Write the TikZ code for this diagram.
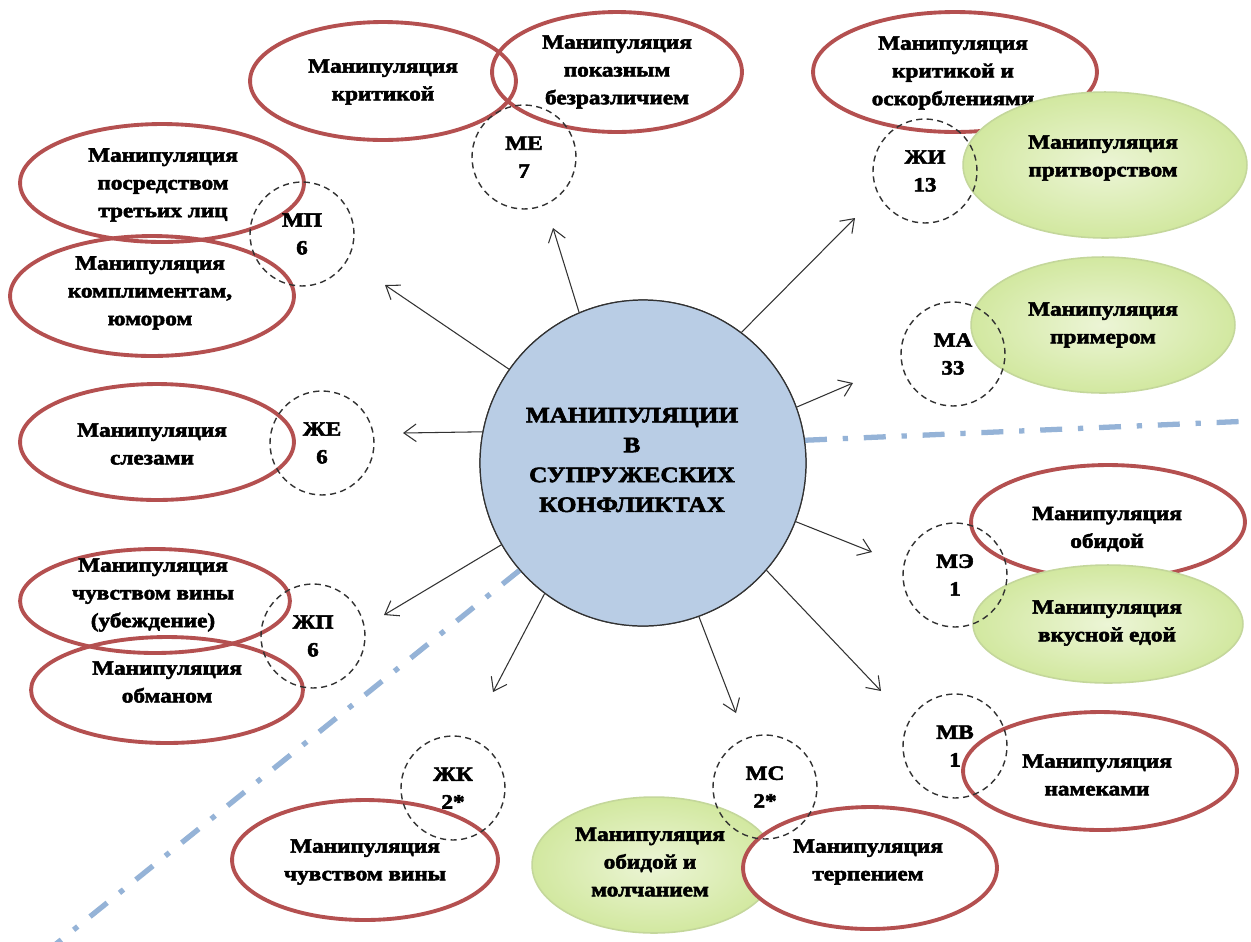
\documentclass[tikz,border=0pt]{standalone}
\usepackage{fontspec}
\newfontfamily\lbl{Liberation Serif}[FakeStretch=1.15,FakeBold=2.6]
\usetikzlibrary{shapes.geometric,arrows.meta}
\definecolor{redc}{RGB}{180,80,80}
\definecolor{grnb}{RGB}{196,215,155}
\definecolor{grnin}{RGB}{236,245,214}
\definecolor{grnout}{RGB}{210,232,160}
\definecolor{bluef}{RGB}{185,205,229}
\definecolor{bluel}{RGB}{149,179,215}
\definecolor{dk}{RGB}{50,50,50}
\tikzset{
  redel/.style 2 args={ellipse, draw=redc, line width=2.2pt, minimum width=#1*0.04cm, minimum height=#2*0.04cm, inner sep=0pt},
  redelw/.style 2 args={redel={#1}{#2}, fill=white},
  grnel/.style 2 args={ellipse, draw=grnb, line width=0.9pt, inner color=grnin, outer color=grnout, minimum width=#1*0.04cm, minimum height=#2*0.04cm, inner sep=0pt},
  txt/.style={font={\lbl\bfseries\fontsize{11.5pt}{15.8pt}\selectfont}, align=center, inner sep=0pt, text=black},
  dc/.style={circle, draw=dk, line width=0.8pt, dash pattern=on 3.5pt off 2.5pt, minimum size=2.08cm, inner sep=0pt, font={\lbl\bfseries\fontsize{11.5pt}{15.8pt}\selectfont}, align=center},
  arr/.style={draw=dk, line width=0.6pt, -{Straight Barb[length=7pt,width=10pt]}},
  dashdot/.style={draw=bluel, line width=3pt, dash pattern=on 12.5pt off 9pt on 3pt off 9pt},
}
\begin{document}
\begin{tikzpicture}[x=0.02cm,y=-0.02cm]
\fill[white] (0,0) rectangle (1251,941);
\useasboundingbox (0,0) rectangle (1251,941);

% central circle
\node[circle, draw=dk, line width=0.7pt, fill=bluef, minimum size=6.52cm, inner sep=0pt] (c) at (643,463) {};
\coordinate (ba) at (1251,421);
\coordinate (bb) at (56,944);
\draw[dashdot] (c.8.7) -- (ba);
\draw[dashdot] (c.221.7) -- (bb);
\node[circle, draw=dk, line width=0.7pt, fill=bluef, minimum size=6.52cm, inner sep=0pt] (c2) at (643,463) {};
\node[txt, font={\lbl\bfseries\fontsize{12.5pt}{17pt}\selectfont}] (ct) at (632,460) {МАНИПУЛЯЦИИ\\В\\СУПРУЖЕСКИХ\\КОНФЛИКТАХ};

% red ellipses
\node[redel={133}{59}] (e1) at (383,81) {};
\node[txt] (t1) at (383,82) {Манипуляция\\критикой};
\node[redel={125}{60}] (e2) at (617,72) {};
\node[txt] (t2) at (617,72) {Манипуляция\\показным\\безразличием};
\node[redel={142}{60}] (e3) at (955,72) {};
\node[txt] (t3) at (953,73) {Манипуляция\\критикой и\\оскорблениями};
\node[redel={142}{59}] (e5) at (162,183) {};
\node[txt] (t5) at (163,185) {Манипуляция\\посредством\\третьих лиц};
\node[redel={142}{60}] (e6) at (152,296) {};
\node[txt] (t6) at (150,293) {Манипуляция\\комплиментам,\\юмором};
\node[redel={137}{58}] (e8) at (157,442) {};
\node[txt] (t8) at (152,444) {Манипуляция\\слезами};
\node[redel={135}{52}] (e9) at (155,601) {};
\node[txt] (t9) at (153,595) {Манипуляция\\чувством вины\\(убеждение)};
\node[redel={136}{53}] (e10) at (167,690) {};
\node[txt] (t10) at (167,682) {Манипуляция\\обманом};
\node[redel={137}{57}] (e11) at (1108,522) {};
\node[txt] (t11) at (1107,529) {Манипуляция\\обидой};
\node[redel={137}{59}] (e13) at (1100,771) {};
\node[txt] (t13) at (1097,775) {Манипуляция\\намеками};
\node[redel={133}{60}] (e14) at (365,860) {};
\node[txt] (t14) at (365,862) {Манипуляция\\чувством вины};

% green ellipses
\node[grnel={142}{73}] (g4) at (1105,165) {};
\node[txt] (tg4) at (1103,158) {Манипуляция\\притворством};
\node[grnel={132}{68}] (g7) at (1103,325) {};
\node[txt] (tg7) at (1103,325) {Манипуляция\\примером};
\node[grnel={135}{59}] (g12) at (1108,624) {};
\node[txt] (tg12) at (1107,623) {Манипуляция\\вкусной едой};
\node[grnel={122}{68}] (g15) at (654,865) {};
\node[txt] (tg15) at (650,862) {Манипуляция\\обидой и\\молчанием};

\node[redelw={127}{61}] (e16) at (870,868) {};
\node[txt] (t16) at (868,862) {Манипуляция\\терпением};

% dashed label circles
\node[dc] (me) at (524,157) {МЕ\\7};
\node[dc] (zhi) at (925,171) {ЖИ\\13};
\node[dc] (mp) at (302,234) {МП\\6};
\node[dc] (ma) at (953,354) {МА\\33};
\node[dc] (zhe) at (322,443) {ЖЕ\\6};
\node[dc] (zhp) at (313,636) {ЖП\\6};
\node[dc] (me2) at (955,575) {МЭ\\1};
\node[dc] (mv) at (955,746) {МВ\\1};
\node[dc] (zhk) at (453,788) {ЖК\\2*};
\node[dc] (ms) at (765,787) {МС\\2*};

% arrows
\coordinate (a1) at (553,228);
\coordinate (a2) at (385,285);
\coordinate (a3) at (403,433);
\coordinate (a4) at (384,615);
\coordinate (a5) at (493,692);
\coordinate (a6) at (736,713);
\coordinate (a7) at (881,691);
\coordinate (a8) at (872,552);
\coordinate (a9) at (853,383);
\coordinate (a10) at (855,218);
\draw[arr] (c.113) -- (a1);
\draw[arr] (c.145) -- (a2);
\draw[arr] (c.169) -- (a3);
\draw[arr] (c.210.5) -- (a4);
\draw[arr] (c.233) -- (a5);
\draw[arr] (c.290) -- (a6);
\draw[arr] (c.319.6) -- (a7);
\draw[arr] (c.339.6) -- (a8);
\draw[arr] (c.20) -- (a9);
\draw[arr] (c.53.6) -- (a10);
\end{tikzpicture}
\end{document}
